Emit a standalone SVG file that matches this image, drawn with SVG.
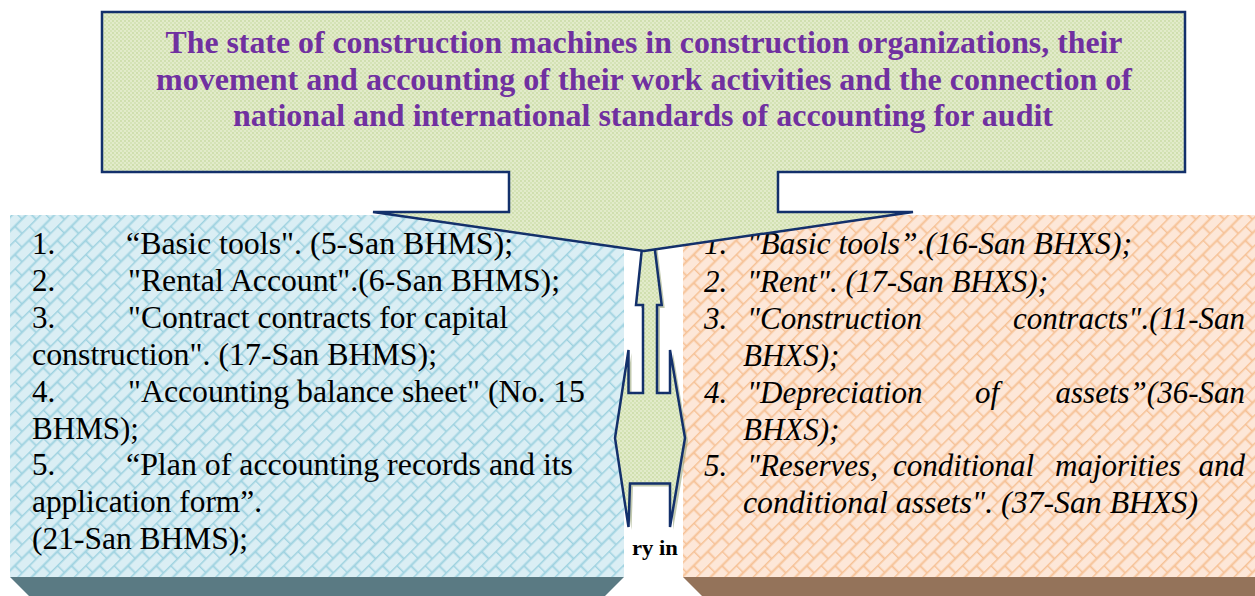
<svg xmlns="http://www.w3.org/2000/svg" width="1255" height="596" viewBox="0 0 1255 596">
<style>
.edge{stroke:#13306b;stroke-width:2.5;stroke-linejoin:miter}
</style>
<defs>
<pattern id="dots" width="4" height="4" patternUnits="userSpaceOnUse">
<rect width="4" height="4" fill="#e2ebca"/>
<circle cx="1" cy="1" r="0.9" fill="#c7daa2"/>
<circle cx="3" cy="3" r="0.9" fill="#cfe0ae"/>
</pattern>
<pattern id="brickBlue" width="20" height="20" patternUnits="userSpaceOnUse" patternTransform="rotate(-45)">
<rect width="20" height="20" fill="#daeef4"/>
<path d="M0,0.5H20M0,10.5H20M0.5,0.5V10.5M10.5,10.5V20.5" stroke="#9ed2e0" stroke-width="1.8" fill="none"/>
</pattern>
<pattern id="brickPeach" width="20" height="20" patternUnits="userSpaceOnUse" patternTransform="rotate(-45)">
<rect width="20" height="20" fill="#fde7d8"/>
<path d="M0,0.5H20M0,10.5H20M0.5,0.5V10.5M10.5,10.5V20.5" stroke="#f6c195" stroke-width="1.8" fill="none"/>
</pattern>
</defs>
<rect width="1255" height="596" fill="#ffffff"/>

<g id="left-panel">
<rect x="10" y="215" width="614" height="362" fill="url(#brickBlue)"/>
<polygon points="10,577 624,577 605,596 29,596" fill="#5a7a83"/>
<g font-family="'Liberation Serif', 'Times New Roman', serif" font-size="31" fill="#000">
<text x="32" y="254">1.</text><text x="126" y="254" textLength="387" lengthAdjust="spacingAndGlyphs">“Basic tools". (5-San BHMS);</text>
<text x="32" y="291">2.</text><text x="128" y="291" textLength="432" lengthAdjust="spacingAndGlyphs">"Rental Account".(6-San BHMS);</text>
<text x="32" y="328">3.</text><text x="128" y="328" textLength="380" lengthAdjust="spacingAndGlyphs">"Contract contracts for capital</text>
<text x="32" y="365" textLength="405" lengthAdjust="spacingAndGlyphs">construction". (17-San BHMS);</text>
<text x="32" y="402">4.</text><text x="128" y="402" textLength="457" lengthAdjust="spacingAndGlyphs">"Accounting balance sheet" (No. 15</text>
<text x="32" y="439" textLength="107" lengthAdjust="spacingAndGlyphs">BHMS);</text>
<text x="32" y="475">5.</text><text x="126" y="475" textLength="447" lengthAdjust="spacingAndGlyphs">“Plan of accounting records and its</text>
<text x="32" y="512" textLength="230" lengthAdjust="spacingAndGlyphs">application form”.</text>
<text x="32" y="549" textLength="216" lengthAdjust="spacingAndGlyphs">(21-San BHMS);</text>
</g>
</g>

<g id="right-panel">
<rect x="683" y="215" width="572" height="362" fill="url(#brickPeach)"/>
<polygon points="683,577 1255,577 1255,596 702,596" fill="#94735a"/>
<g font-family="'Liberation Serif', 'Times New Roman', serif" font-size="31" font-style="italic" fill="#000">
<text x="704" y="254">1.</text><text x="747" y="254" textLength="385" lengthAdjust="spacingAndGlyphs">"Basic tools”.(16-San BHXS);</text>
<text x="704" y="292">2.</text><text x="747" y="292" textLength="301" lengthAdjust="spacingAndGlyphs">"Rent". (17-San BHXS);</text>
<text x="704" y="329">3.</text><text x="747" y="329">"Construction</text><text x="1245" y="329" text-anchor="end">contracts".(11-San</text>
<text x="743" y="366">BHXS);</text>
<text x="704" y="403">4.</text><text x="747" y="403">"Depreciation</text><text x="975" y="403">of</text><text x="1245" y="403" text-anchor="end">assets”(36-San</text>
<text x="743" y="440">BHXS);</text>
<text x="704" y="476">5.</text><text x="747" y="476">"Reserves,</text><text x="893" y="476">conditional</text><text x="1055" y="476">majorities</text><text x="1245" y="476" text-anchor="end">and</text>
<text x="743" y="513" textLength="455" lengthAdjust="spacingAndGlyphs">conditional assets". (37-San BHXS)</text>
</g>
</g>

<g id="connectors">
<path d="M644.3,245 L638,305 L643,305 L643,393 L628.5,393 L628.5,350 L615,438 L628.5,527 L630,483.5 L670,483.5 L670,527 L685,438 L670,350 L670,393 L657,393 L657,305 L661.7,305 L654.3,245 Z" transform="translate(3,3)" fill="#8f9c6e" opacity="0.55"/>
<path class="edge" d="M642.3,245 L636,305 L643,305 L643,393 L628.5,393 L628.5,350 L615,438 L628.5,527 L630,483.5 L670,483.5 L670,527 L685,438 L670,350 L670,393 L657,393 L657,305 L661.7,305 L654.3,245 Z" fill="url(#dots)"/>
</g>

<g id="title">
<path class="edge" d="M102,12 H1185 V172 H778 V212 H913 L644,251 L373,212 H509 V172 H102 Z" fill="url(#dots)"/>
<g font-family="'Liberation Serif', 'Times New Roman', serif" font-size="32.5" font-weight="bold" fill="#7030a0" text-anchor="middle">
<text x="644" y="53" textLength="957" lengthAdjust="spacingAndGlyphs">The state of construction machines in construction organizations, their</text>
<text x="644" y="89.5" textLength="976" lengthAdjust="spacingAndGlyphs">movement and accounting of their work activities and the connection of</text>
<text x="643" y="126" textLength="820" lengthAdjust="spacingAndGlyphs">national and international standards of accounting for audit</text>
</g>
</g>

<g id="hidden-label">
<text x="632" y="555" font-family="'Liberation Serif', 'Times New Roman', serif" font-size="22" font-weight="bold" fill="#000" textLength="46" lengthAdjust="spacingAndGlyphs">ry in</text>
</g>
</svg>
